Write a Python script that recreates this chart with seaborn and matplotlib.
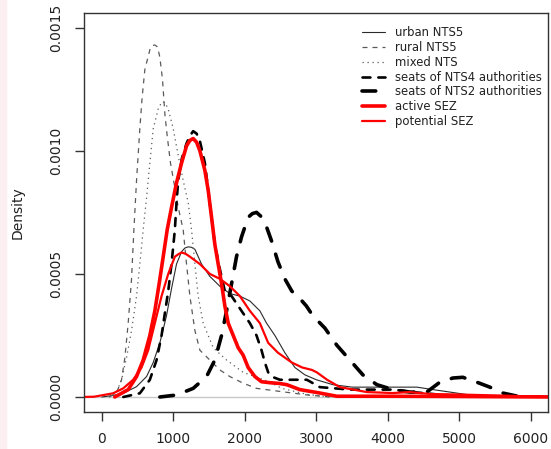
import numpy as np
import pandas as pd
import seaborn as sns
import matplotlib
matplotlib.use("Agg")
import matplotlib.pyplot as plt
from matplotlib.patches import Rectangle

# ---- data (x = value, d = density) ----
urban_x = [0, 150, 298, 485, 625, 718, 811, 904, 974, 1044, 1114, 1160, 1207, 1255, 1301, 1394, 1510, 1650,
           1790, 1930, 2070, 2210, 2303, 2420, 2559, 2699, 2839, 3000, 3231, 3500, 3706, 3950, 4168, 4405,
           4629, 4867, 5100, 5329, 5800]
urban_d = [0, 0.000006, 0.000015, 0.000042, 0.000083, 0.00014, 0.00022, 0.00033, 0.00044, 0.00054, 0.00059,
           0.000605, 0.00061, 0.000608, 0.0006, 0.00054, 0.00049, 0.00045, 0.00042, 0.00041, 0.00039,
           0.00035, 0.0003, 0.00025, 0.00018, 0.00012, 0.00009, 0.00007, 0.00005, 0.00004, 0.00004, 0.00004,
           0.00004, 0.00004, 0.00003, 0.00002, 0.00001, 0.000004, 0]

rural_x = [100, 205, 275, 322, 368, 415, 448, 485, 531, 564, 601, 671, 704, 741, 779, 811, 848, 881, 914, 960,
           1021, 1068, 1137, 1184, 1231, 1301, 1371, 1510, 1650, 1790, 1976, 2163, 2350, 2559, 2881, 3200]
rural_d = [0, 0.000016, 0.00007, 0.00016, 0.0003, 0.00048, 0.00068, 0.00088, 0.00109, 0.00122, 0.00133,
           0.00141, 0.001428, 0.00143, 0.001422, 0.00138, 0.00129, 0.00115, 0.00106, 0.00095, 0.00085,
           0.00077, 0.00068, 0.00054, 0.00041, 0.00027, 0.00019, 0.00015, 0.00011, 0.000083, 0.000056,
           0.000035, 0.000028, 0.00002, 0.000008, 0]

mixed_x = [100, 205, 275, 345, 415, 485, 531, 578, 625, 671, 718, 788, 823, 858, 893, 928, 998, 1068, 1137,
           1207, 1254, 1301, 1347, 1417, 1557, 1744, 1976, 2210, 2350, 2517, 2881, 3200]
mixed_d = [0, 0.00002, 0.00007, 0.00016, 0.00027, 0.00041, 0.00054, 0.00068, 0.00081, 0.00095, 0.00109,
           0.00117, 0.00119, 0.0012, 0.00119, 0.00117, 0.00109, 0.00098, 0.00088, 0.00079, 0.00068, 0.00054,
           0.00041, 0.0003, 0.0002, 0.00015, 0.0001, 0.000076, 0.00006, 0.000035, 0.00001, 0]

nts4_x = [300, 531, 671, 765, 835, 881, 928, 974, 1021, 1044, 1068, 1120, 1184, 1230, 1277, 1325, 1371, 1441,
          1487, 1534, 1580, 1650, 1720, 1814, 1883, 1976, 2070, 2163, 2233, 2280, 2326, 2400, 2490, 2671,
          2867, 3049, 3469, 4070, 4350, 4700, 5200]
nts4_d = [0, 0.000015, 0.00007, 0.00015, 0.00025, 0.00034, 0.00043, 0.00054, 0.00068, 0.00079, 0.00088,
          0.00097, 0.00103, 0.00106, 0.00108, 0.00107, 0.00104, 0.00095, 0.00084, 0.00073, 0.00062, 0.00052,
          0.00043, 0.00041, 0.00038, 0.00034, 0.0003, 0.00025, 0.00019, 0.00014, 0.0001, 0.00008, 0.00007,
          0.00007, 0.00007, 0.00004, 0.00003, 0.00003, 0.00002, 0.00001, 0]

nts2_x = [811, 1044, 1277, 1464, 1580, 1674, 1744, 1814, 1883, 1953, 2046, 2105, 2163, 2220, 2280, 2378, 2462,
          2559, 2657, 2769, 2860, 2951, 3119, 3287, 3469, 3650, 3846, 4070, 4308, 4545, 4727, 4909, 5049, 5245,
          5427, 5608, 5800, 5944]
nts2_d = [0, 0.000008, 0.000035, 0.000083, 0.00015, 0.00025, 0.00035, 0.00046, 0.00057, 0.00065, 0.00073,
          0.000745, 0.00075, 0.000735, 0.00071, 0.00063, 0.00055, 0.00048, 0.00043, 0.0004, 0.00037, 0.00033,
          0.00028, 0.00021, 0.00015, 0.00009, 0.00005, 0.00003, 0.00002, 0.00002, 0.00006, 0.000077, 0.00008,
          0.00006, 0.00004, 0.000016, 0.000004, 0]

active_x = [180, 368, 485, 578, 671, 741, 801, 858, 914, 974, 1044, 1114, 1184, 1230, 1277, 1325, 1371, 1441,
            1487, 1534, 1580, 1627, 1674, 1720, 1767, 1837, 1907, 1976, 2046, 2140, 2233, 2350, 2480, 2587,
            2769, 3049, 3287, 4000, 5000, 6300]
active_d = [0, 0.00003, 0.000083, 0.00015, 0.00025, 0.00035, 0.00046, 0.00057, 0.00068, 0.00077, 0.00087,
            0.00095, 0.00102, 0.001042, 0.00105, 0.001035, 0.001, 0.00092, 0.00084, 0.00073, 0.00062, 0.00054,
            0.00046, 0.00037, 0.0003, 0.00025, 0.0002, 0.00017, 0.00012, 0.000083, 0.000062, 0.000058,
            0.000055, 0.00005, 0.00003, 0.000016, 0.000003, 0.000003, 0.000002, 0]

potential_x = [-300, -112, 158, 298, 438, 555, 648, 741, 835, 928, 1021, 1070, 1114, 1170, 1231, 1371, 1510,
               1650, 1790, 1930, 2070, 2210, 2326, 2462, 2657, 2800, 2937, 3007, 3150, 3329, 3706, 4070, 4300,
               4600, 5000, 5944, 6300]
potential_d = [0, 0.000001, 0.000015, 0.000035, 0.00007, 0.00012, 0.00019, 0.0003, 0.00041, 0.0005, 0.00057,
               0.00058, 0.000587, 0.000582, 0.00057, 0.00054, 0.0005, 0.00048, 0.00045, 0.00041, 0.00035,
               0.0003, 0.00022, 0.00018, 0.00014, 0.00012, 0.00011, 0.0001, 0.00007, 0.00004, 0.00002,
               0.000016, 0.00002, 0.000012, 0.00001, 0.000003, 0.000002]

labels = ["urban NTS5", "rural NTS5", "mixed NTS", "seats of NTS4 authorities",
          "seats of NTS2 authorities", "active SEZ", "potential SEZ"]
x_ticks = [0, 1000, 2000, 3000, 4000, 5000, 6000]
y_ticks = [0.0, 0.0005, 0.0010, 0.0015]
y_tick_labels = ["0.0000", "0.0005", "0.0010", "0.0015"]

series = [(urban_x, urban_d), (rural_x, rural_d), (mixed_x, mixed_d), (nts4_x, nts4_d),
          (nts2_x, nts2_d), (active_x, active_d), (potential_x, potential_d)]

styles = [
    dict(color="#2a2a2a", lw=0.8, linestyle="-"),
    dict(color="#5a5a5a", lw=0.9, linestyle=(0, (4, 4))),
    dict(color="#5a5a5a", lw=0.9, linestyle=(0, (1, 3))),
    dict(color="black", lw=1.9, linestyle=(0, (3, 3)), dash_capstyle="round"),
    dict(color="black", lw=2.6, linestyle=(0, (3.8, 3.8)), dash_capstyle="round"),
    dict(color="#ff0000", lw=2.6, linestyle="-"),
    dict(color="#ff0000", lw=1.6, linestyle="-"),
]

sns.set_theme(style="ticks")
plt.rcParams["font.family"] = ["DejaVu Sans"]

W, H = 551, 449
fig = plt.figure(figsize=(W / 100, H / 100), dpi=100)
fig.patches.append(Rectangle((0, 0), 6 / W, 1, transform=fig.transFigure, color="#fbeff2", zorder=-10))
ax = fig.add_axes([84 / W, 1 - 412 / H, (548 - 84) / W, (412 - 13) / H])

ax.axhline(0, color="#c8c8c8", lw=1.0, zorder=0)

for (xs, ds), lab, st in zip(series, labels, styles):
    df = pd.DataFrame({"x": xs, "d": ds})
    sns.lineplot(data=df, x="x", y="d", ax=ax, label=lab, **st)

ax.set_xlim(-250, 6240)
ax.set_ylim(-0.000061, 0.00156)
ax.set_xticks(x_ticks)
ax.set_xticklabels([str(v) for v in x_ticks])
ax.set_yticks(y_ticks)
ax.set_yticklabels(y_tick_labels, rotation=90, va="center")
ax.set_xlabel("")
ax.set_ylabel("Density", fontsize=10, color="#222222")
ax.yaxis.set_label_coords((25 - 84) / 464, 0.5)

for sp in ax.spines.values():
    sp.set_visible(True)
    sp.set_color("#333333")
    sp.set_linewidth(1.0)
ax.tick_params(axis="both", direction="out", length=6.5, width=1.0, color="#333333",
               labelsize=10, labelcolor="#222222")
ax.tick_params(axis="y", pad=8.5)
ax.tick_params(axis="x", pad=8)

leg = ax.legend(loc="upper left", bbox_to_anchor=(362 / W, 1 - 26 / H), bbox_transform=fig.transFigure,
                frameon=False, fontsize=8.4, handlelength=2.0, handletextpad=0.85, labelspacing=0.16,
                borderpad=0, borderaxespad=0)
for t in leg.get_texts():
    t.set_color("#222222")

fig.savefig("out.png", dpi=100)
